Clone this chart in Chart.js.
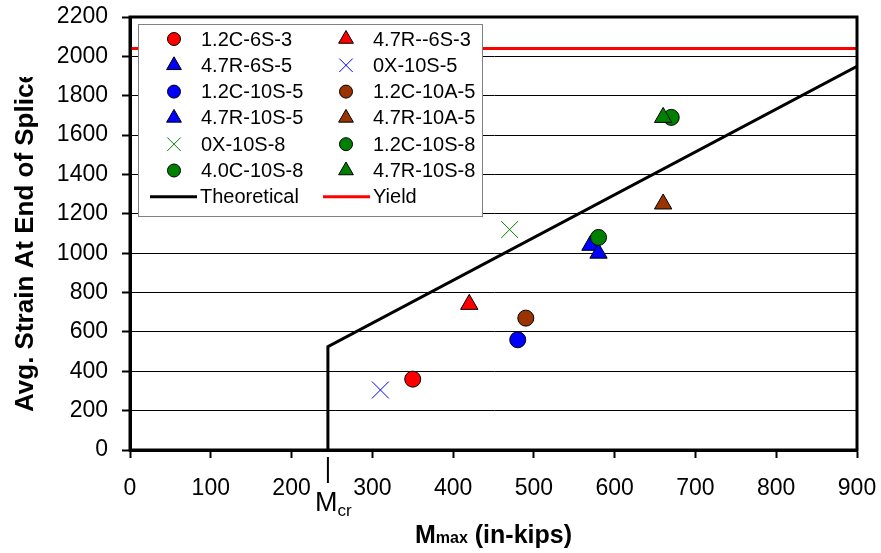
<!DOCTYPE html>
<html>
<head>
<meta charset="utf-8">
<script src="https://cdn.jsdelivr.net/npm/chart.js@4/dist/chart.umd.min.js"></script>
<style>
  html, body { margin: 0; padding: 0; background: #fff; }
</style>
</head>
<body>
<canvas id="grafico-emenda" width="881" height="553"></canvas>
<script>
// ensaios: momento máximo x deformação média no fim da emenda
const seriesNames = [
  '1.2C-6S-3', '4.7R--6S-3', '4.7R-6S-5', '0X-10S-5',
  '1.2C-10S-5', '1.2C-10A-5', '4.7R-10S-5', '4.7R-10A-5',
  '0X-10S-8', '1.2C-10S-8', '4.0C-10S-8', '4.7R-10S-8'
];
const mMax = [350, 420, 570, 310, 480, 490, 580, 660, 470, 580, 670, 660];
const avgStrain = [360, 740, 1040, 305, 560, 670, 1000, 1250, 1120, 1080, 1690, 1690];

// curva teórica e escoamento
const theoryM = [245, 245, 900];
const theoryStrain = [0, 525, 1950];
const yieldM = [0, 900];
const yieldStrain = [2040, 2040];
const mCr = 245;

// eixos
const xRange = [0, 900, 100];
const yRange = [0, 2200, 200];

const markerColors = ['#ff0000', '#ff0000', '#0000ff', '#0000ff', '#0000ff', '#993300',
  '#0000ff', '#993300', '#008000', '#008000', '#008000', '#008000'];
const markerShapes = ['circle', 'triangle', 'triangle', 'crossRot', 'circle', 'circle',
  'triangle', 'triangle', 'crossRot', 'circle', 'circle', 'triangle'];

const FONT = '"Liberation Sans", Arial, sans-serif';
const plotSize = { circle: 8, triangle: 10, crossRot: 12 };
const legendSize = { circle: 6.5, triangle: 8.5, crossRot: 9.5 };

const datasets = seriesNames.map((name, i) => {
  const cross = markerShapes[i] === 'crossRot';
  return {
    label: name,
    data: [{ x: mMax[i], y: avgStrain[i] }],
    pointStyle: markerShapes[i],
    pointRadius: plotSize[markerShapes[i]],
    pointBackgroundColor: markerColors[i],
    pointBorderColor: cross ? markerColors[i] : '#000',
    pointBorderWidth: 1,
    showLine: false,
    order: -i
  };
});

datasets.push({
  label: 'Theoretical',
  data: theoryM.map((m, j) => ({ x: m, y: theoryStrain[j] })),
  showLine: true,
  borderColor: '#000',
  borderWidth: 3,
  pointRadius: 0,
  order: 5
});
datasets.push({
  label: 'Yield',
  data: yieldM.map((m, j) => ({ x: m, y: yieldStrain[j] })),
  showLine: true,
  borderColor: '#ff0000',
  borderWidth: 3,
  pointRadius: 0,
  order: 6
});

function drawMarker(ctx, shape, x, y, r, color) {
  ctx.beginPath();
  if (shape === 'circle') {
    ctx.arc(x, y, r, 0, Math.PI * 2);
  } else if (shape === 'triangle') {
    let a = 0;
    for (let k = 0; k < 3; k++) {
      const px = x + Math.sin(a) * r, py = y - Math.cos(a) * r;
      k ? ctx.lineTo(px, py) : ctx.moveTo(px, py);
      a += Math.PI * 2 / 3;
    }
    ctx.closePath();
  } else {
    const d = r * Math.SQRT1_2;
    ctx.moveTo(x - d, y - d); ctx.lineTo(x + d, y + d);
    ctx.moveTo(x - d, y + d); ctx.lineTo(x + d, y - d);
    ctx.strokeStyle = color; ctx.lineWidth = 1; ctx.stroke();
    return;
  }
  ctx.fillStyle = color; ctx.fill();
  ctx.strokeStyle = '#000'; ctx.lineWidth = 1; ctx.stroke();
}

// legenda, moldura, Mcr e títulos dos eixos
const moldura = {
  id: 'moldura',
  afterDraw(chart) {
    const ctx = chart.ctx;
    const area = chart.chartArea;
    const xs = chart.scales.x;
    ctx.save();

    ctx.fillStyle = '#fff';
    ctx.fillRect(138.5, 24.5, 344, 192);
    ctx.strokeStyle = '#808080';
    ctx.lineWidth = 1;
    ctx.strokeRect(138.5, 24.5, 344, 192);

    const colMarker = [174, 346], colText = [201, 373];
    ctx.font = '20px ' + FONT;
    ctx.textBaseline = 'middle';
    ctx.textAlign = 'left';
    seriesNames.forEach((name, i) => {
      const c = i % 2, row = Math.floor(i / 2);
      const y = 39 + row * 26.3;
      drawMarker(ctx, markerShapes[i], colMarker[c], y, legendSize[markerShapes[i]], markerColors[i]);
      ctx.fillStyle = '#000';
      ctx.fillText(name, colText[c], y + 1);
    });
    const yl = 39 + 6 * 26.3;
    [['Theoretical', '#000', 150], ['Yield', '#ff0000', 323]].forEach(([txt, cor, x0]) => {
      ctx.beginPath();
      ctx.moveTo(x0, yl); ctx.lineTo(x0 + 47, yl);
      ctx.strokeStyle = cor; ctx.lineWidth = 3; ctx.stroke();
      ctx.fillStyle = '#000';
      ctx.fillText(txt, x0 + 50, yl + 1);
    });

    ctx.strokeStyle = '#000';
    ctx.lineWidth = 3;
    ctx.strokeRect(area.left, area.top, area.right - area.left, area.bottom - area.top);

    // marca do momento de fissuração
    const xc = xs.getPixelForValue(mCr);
    ctx.beginPath();
    ctx.moveTo(xc, 457); ctx.lineTo(xc, 483);
    ctx.lineWidth = 2; ctx.stroke();
    ctx.fillStyle = '#000';
    ctx.textBaseline = 'alphabetic';
    ctx.font = '27px ' + FONT;
    ctx.fillText('M', 315, 511);
    const wM = ctx.measureText('M').width;
    ctx.font = '17px ' + FONT;
    ctx.fillText('cr', 315 + wM, 516);

    // título do eixo x
    const big = 'bold 25px ' + FONT, small = 'bold 16px ' + FONT;
    ctx.font = big; const w1 = ctx.measureText('M').width;
    const w3 = ctx.measureText(' (in-kips)').width;
    ctx.font = small; const w2 = ctx.measureText('max').width;
    let x = (area.left + area.right) / 2 - (w1 + w2 + w3) / 2;
    ctx.font = big; ctx.fillText('M', x, 543); x += w1;
    ctx.font = small; ctx.fillText('max', x, 543); x += w2;
    ctx.font = big; ctx.fillText(' (in-kips)', x, 543);

    // título do eixo y, cortado no alto como na caixa de texto original
    ctx.beginPath();
    ctx.rect(0, 77, 60, 400);
    ctx.clip();
    ctx.translate(33, 412);
    ctx.rotate(-Math.PI / 2);
    ctx.font = 'bold 26px ' + FONT;
    ctx.fillText('Avg. Strain At End of Splice', 0, 0);
    ctx.restore();
  }
};

const ctx = document.getElementById('grafico-emenda').getContext('2d');
new Chart(ctx, {
  type: 'scatter',
  data: { datasets },
  plugins: [moldura],
  options: {
    responsive: false,
    animation: false,
    layout: { padding: { left: 0, top: 17, right: 24, bottom: 0 } },
    plugins: {
      legend: { display: false },
      tooltip: { enabled: false }
    },
    scales: {
      x: {
        type: 'linear',
        min: xRange[0], max: xRange[1],
        afterFit: s => { s.height = 103; s.paddingLeft = 0; s.paddingRight = 0; },
        ticks: {
          stepSize: xRange[2], autoSkip: false, maxRotation: 0,
          color: '#000', padding: 17,
          font: { family: FONT, size: 23 },
          callback: v => String(v)
        },
        grid: {
          drawOnChartArea: false, drawTicks: true, tickLength: 8,
          tickColor: '#000', tickWidth: 2
        },
        border: { color: '#000', width: 3 }
      },
      y: {
        min: yRange[0], max: yRange[1],
        afterFit: s => { s.width = 130; s.paddingTop = 0; s.paddingBottom = 0; },
        ticks: {
          stepSize: yRange[2], color: '#000', padding: 14,
          font: { family: FONT, size: 23 },
          callback: v => String(v)
        },
        grid: {
          color: '#000', lineWidth: 1, drawTicks: true, tickLength: 8,
          tickColor: '#000', tickWidth: 2
        },
        border: { color: '#000', width: 3 }
      }
    }
  }
});
</script>
</body>
</html>
